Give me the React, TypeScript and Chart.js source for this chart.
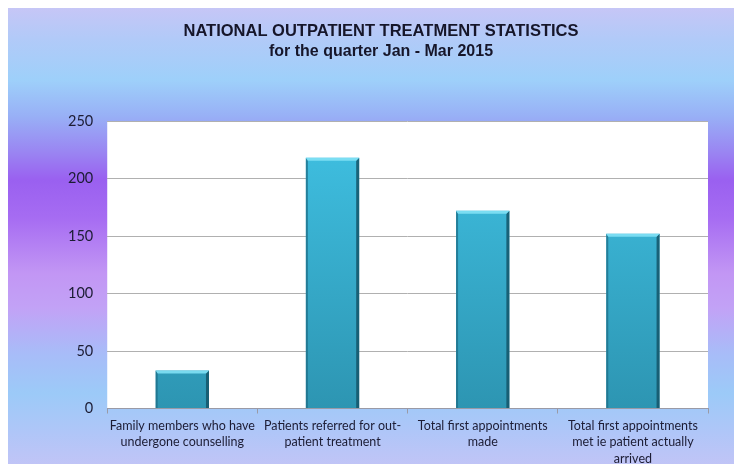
import React, { useEffect, useRef } from "react";
import { Chart, registerables } from "chart.js";

Chart.register(...registerables);

const titleText = "NATIONAL OUTPATIENT TREATMENT STATISTICS";
const subtitleText = "for the quarter Jan - Mar 2015";

const categories: string[][] = [
  ["Family members who have", "undergone counselling"],
  ["Patients referred for out-", "patient treatment"],
  ["Total first appointments", "made"],
  ["Total first appointments", "met ie patient actually", "arrived"],
];

const values: number[] = [33, 218, 172, 152];

const yMin = 0;
const yMax = 250;
const yStep = 50;

// White plot panel behind the bars
const plotPanel = {
  id: "plotPanel",
  beforeDraw(chart: any) {
    const { ctx, chartArea } = chart;
    if (!chartArea) return;
    ctx.save();
    ctx.fillStyle = "#ffffff";
    ctx.fillRect(chartArea.left, chartArea.top, chartArea.right - chartArea.left, chartArea.bottom - chartArea.top);
    ctx.restore();
  },
};

// Bevelled look on each bar: dark side edges and a light top rim
const barBevel = {
  id: "barBevel",
  afterDatasetsDraw(chart: any) {
    const { ctx } = chart;
    const meta = chart.getDatasetMeta(0);
    ctx.save();
    meta.data.forEach((bar: any) => {
      const { x, y, base, width } = bar.getProps(["x", "y", "base", "width"], true);
      const l = x - width / 2;
      const r = x + width / 2;
      const t = y;
      const b = base;
      const e = 3;
      // left edge
      ctx.fillStyle = "rgba(30,110,135,0.75)";
      ctx.beginPath();
      ctx.moveTo(l, t);
      ctx.lineTo(l + e - 1, t + e);
      ctx.lineTo(l + e - 1, b);
      ctx.lineTo(l, b);
      ctx.closePath();
      ctx.fill();
      // right edge
      ctx.fillStyle = "rgba(20,85,105,0.85)";
      ctx.beginPath();
      ctx.moveTo(r, t);
      ctx.lineTo(r - e, t + e);
      ctx.lineTo(r - e, b);
      ctx.lineTo(r, b);
      ctx.closePath();
      ctx.fill();
      // top rim
      ctx.fillStyle = "rgba(130,225,245,0.9)";
      ctx.beginPath();
      ctx.moveTo(l, t);
      ctx.lineTo(r, t);
      ctx.lineTo(r - e, t + e);
      ctx.lineTo(l + e - 1, t + e);
      ctx.closePath();
      ctx.fill();
    });
    ctx.restore();
  },
};

export default function App() {
  const canvasRef = useRef<HTMLCanvasElement | null>(null);

  useEffect(() => {
    const canvas = canvasRef.current;
    if (!canvas) return;
    const chart = new Chart(canvas, {
      type: "bar",
      data: {
        labels: categories,
        datasets: [
          {
            data: values,
            backgroundColor: (c: any) => {
              const area = c.chart.chartArea;
              if (!area) return "#38b4d4";
              const g = c.chart.ctx.createLinearGradient(0, area.top, 0, area.bottom);
              g.addColorStop(0, "#40c2e4");
              g.addColorStop(1, "#2d95b2");
              return g;
            },
            borderWidth: 0,
            categoryPercentage: 1,
            barPercentage: 0.355,
          },
        ],
      },
      options: {
        animation: false,
        responsive: false,
        maintainAspectRatio: false,
        layout: { padding: { left: 50, right: 34, top: 0, bottom: 0 } },
        plugins: {
          legend: { display: false },
          tooltip: { enabled: false },
          title: {
            display: true,
            text: titleText,
            color: "#16162a",
            font: { family: "'Liberation Sans', Arial, sans-serif", size: 16.5, weight: "bold" },
            padding: { top: 14, bottom: 0 },
          },
          subtitle: {
            display: true,
            text: subtitleText,
            color: "#16162a",
            font: { family: "'Liberation Sans', Arial, sans-serif", size: 16, weight: "bold" },
            padding: { top: 0, bottom: 60 },
          },
        },
        scales: {
          x: {
            grid: {
              display: true,
              offset: true,
              drawOnChartArea: false,
              drawTicks: true,
              tickLength: 5,
              color: "#9a9aa6",
            },
            border: { display: true, color: "#9a9aa6" },
            ticks: {
              color: "#1c1c34",
              font: { family: "Lato, 'Open Sans', sans-serif", size: 12.5, lineHeight: 1.32 },
              padding: 4,
              maxRotation: 0,
              autoSkip: false,
            },
          },
          y: {
            min: yMin,
            max: yMax,
            ticks: {
              stepSize: yStep,
              color: "#1c1c34",
              font: { family: "Lato, 'Open Sans', sans-serif", size: 14.5 },
              padding: 14,
            },
            grid: { color: "#b0b0b0", drawTicks: false },
            border: { display: false },
          },
        },
      },
      plugins: [plotPanel, barBevel],
    });
    return () => chart.destroy();
  }, []);

  return (
    <div
      style={{
        width: 738,
        height: 463,
        marginLeft: -4,
        background:
          "linear-gradient(to bottom, #c6c6f6 0px, #b2caf8 30px, #9ed0fa 72px, #98b0f6 108px, #9a84f2 145px, #9a60f0 172px, #a66cf2 210px, #c296f4 265px, #c2a2f6 300px, #a8bcf8 345px, #9ccaf8 385px, #b0c6f8 425px, #c4c4f6 463px)",
      }}
    >
      <canvas ref={canvasRef} width={738} height={463} style={{ display: "block" }} />
    </div>
  );
}
